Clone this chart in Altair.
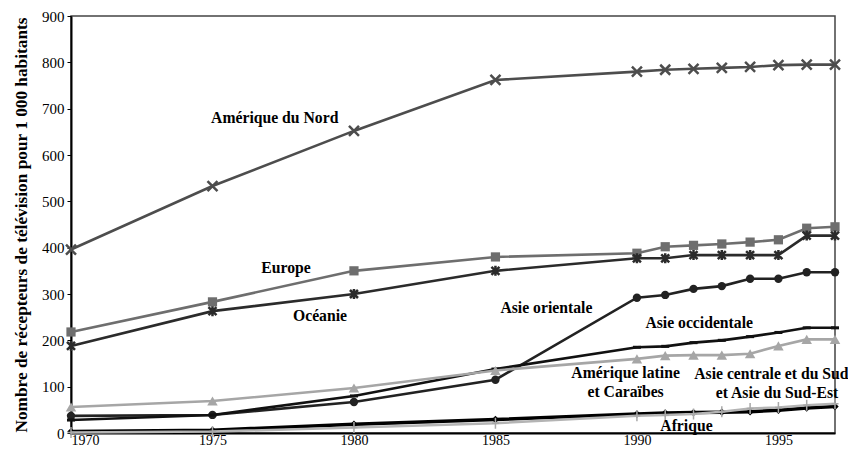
import altair as alt
import pandas as pd

years = [1970, 1975, 1980, 1985, 1990, 1991, 1992, 1993, 1994, 1995, 1996, 1997]

amerique_nord = [396, 533, 652, 762, 780, 784, 786, 788, 790, 794, 795, 795]
europe = [218, 283, 350, 380, 388, 402, 405, 408, 412, 417, 442, 445]
oceanie = [188, 263, 300, 350, 377, 377, 384, 384, 384, 384, 426, 426]
asie_orientale = [37, 39, 67, 115, 292, 298, 311, 317, 333, 333, 347, 347]
asie_occidentale = [28, 39, 80, 138, 185, 187, 195, 200, 208, 217, 227, 227]
amerique_latine = [56, 69, 97, 135, 160, 167, 168, 168, 171, 188, 202, 202]
asie_centrale = [3, 6, 19, 29, 41, 43, 44, 45, 46, 49, 54, 57]
afrique = [1, 3, 12, 21, 37, 39, 41, 46, 53, 55, 60, 63]

label_texts = ["Amérique du Nord", "Europe", "Océanie", "Asie orientale",
               "Asie occidentale", "Amérique latine", "et Caraïbes",
               "Asie centrale et du Sud", "et Asie du Sud-Est", "Afrique"]
label_years = [1977.2, 1977.6, 1978.8, 1986.8, 1992.2, 1989.6, 1989.6, 1994.75, 1994.95, 1991.75]
label_values = [680, 356, 253, 270, 237, 129, 89, 127, 86, 15]

FONT = "Liberation Serif, Times New Roman, serif"

X = alt.X("year:Q",
          scale=alt.Scale(domain=[1970, 1997], nice=False, zero=False),
          axis=alt.Axis(values=[1970, 1975, 1980, 1985, 1990, 1995], format="d",
                        ticks=False, grid=False, domainColor="black", domainWidth=2,
                        labelFont=FONT, labelFontSize=14, labelColor="black",
                        labelPadding=0, title=None))
Y = alt.Y("value:Q",
          scale=alt.Scale(domain=[0, 900], nice=False),
          axis=alt.Axis(values=list(range(0, 1000, 100)), tickSize=4, tickColor="black",
                        tickWidth=1, grid=False, domainColor="black", domainWidth=2,
                        labelFont=FONT, labelFontSize=15, labelColor="black",
                        labelPadding=3,
                        title="Nombre de récepteurs de télévision pour 1 000 habitants",
                        titleFont=FONT, titleFontSize=17.3, titleFontWeight="bold",
                        titleColor="black", titlePadding=11))

XPATH = "M-1,-1L1,1M-1,1L1,-1"
ASTER = "M-0.8,-0.8L0.8,0.8M-0.8,0.8L0.8,-0.8M0,-1L0,1"
DASH = "M-1,-0.38L1,-0.38L1,0.38L-1,0.38Z"
PLUS = "M-0.7,0L0.7,0M0,-1.1L0,1.1"

series = [
    ("Amérique du Nord", amerique_nord, "#4d4d4d", 2.6,
     dict(shape=XPATH, filled=False, size=100, strokeWidth=2.5, color="#4d4d4d", opacity=1)),
    ("Europe", europe, "#6e6e6e", 2.6,
     dict(shape="square", filled=True, size=85, color="#6e6e6e", opacity=1)),
    ("Océanie", oceanie, "#2b2b2b", 2.6,
     dict(shape=ASTER, filled=False, size=100, strokeWidth=2.5, color="#2b2b2b", opacity=1)),
    ("Asie orientale", asie_orientale, "#222222", 2.6,
     dict(shape="circle", filled=True, size=70, color="#222222", opacity=1)),
    ("Asie occidentale", asie_occidentale, "#111111", 2.6,
     dict(shape=DASH, filled=True, size=64, color="#111111", opacity=1)),
    ("Amérique latine", amerique_latine, "#a6a6a6", 2.6,
     dict(shape="triangle-up", filled=True, size=110, color="#a6a6a6", opacity=1)),
    ("Asie centrale", asie_centrale, "#000000", 3.5,
     dict(shape="diamond", filled=True, size=55, color="#000000", opacity=1)),
    ("Afrique", afrique, "#b4b4b4", 2.5,
     dict(shape=PLUS, filled=False, size=100, strokeWidth=1.5, color="#a8a8a8", opacity=1)),
]

layers = []
for name, vals, color, width, mk in series:
    df = pd.DataFrame({"year": years, "value": vals, "serie": name})
    base = alt.Chart(df).encode(x=X, y=Y)
    layers.append(base.mark_line(color=color, strokeWidth=width))
    layers.append(base.mark_point(**mk))

labels_df = pd.DataFrame({"year": label_years, "value": label_values, "label": label_texts})
text_layer = alt.Chart(labels_df).mark_text(
    font=FONT, fontSize=15.7, fontWeight="bold", color="black",
    align="center", baseline="middle"
).encode(x=X, y=Y, text="label:N")
layers.append(text_layer)

chart = alt.layer(*layers).properties(
    width=764, height=417,
    autosize=alt.AutoSizeParams(type="none"),
    padding={"left": 63, "top": 8, "right": 13, "bottom": 14},
).configure_view(stroke="#444444", strokeWidth=1.5)

chart.save("out.html", embed_options={"renderer": "svg", "actions": False})
